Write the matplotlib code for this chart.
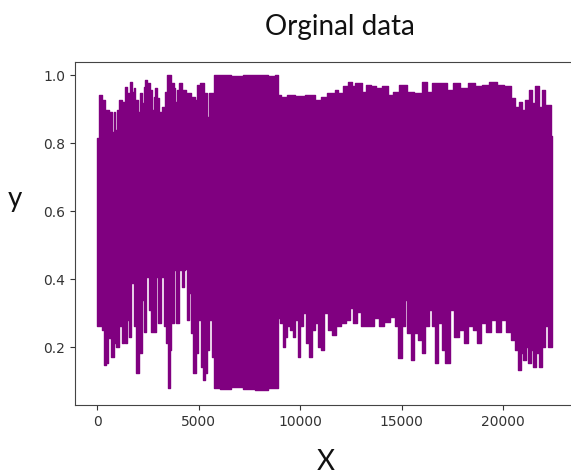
import numpy as np
import matplotlib.pyplot as plt

plt.rcParams['font.family'] = 'DejaVu Sans'

# upper envelope of the signal (x index, y value)
x_top = [0, 30, 165, 360, 445, 690, 770, 855, 935, 1020, 1100, 1345, 1430, 1545,
         1675, 1755, 1840, 1920, 2085, 2170, 2250, 2330, 2415, 2530, 2660, 2740,
         2825, 2905, 3020, 3120, 3285, 3400, 3480, 3610, 3725, 3810, 3890, 3975,
         4055, 4270, 4500, 4760, 4875, 4960, 5040, 5120, 5370, 5485, 5580, 5700,
         5780, 6300, 6900, 7500, 8100, 8700, 8880,
         8930, 9175, 9505, 9995, 10490, 10980, 11065, 11640, 11800, 11970, 12300,
         12460, 12625, 12790, 12955, 13120, 13365, 13610, 13860, 14185, 14435,
         14680, 15090, 15420, 15830, 16160, 16320, 16650, 17060, 17390, 17720,
         18050, 18460, 18790, 19120, 19530, 19860, 20270, 20520, 20680, 20845,
         21010, 21175, 21340, 21500, 21670, 21830, 22000, 22160, 22320, 22410]
y_top = [0.72, 0.815, 0.942, 0.927, 0.898, 0.893, 0.834, 0.893, 0.839, 0.898, 0.927,
         0.922, 0.966, 0.947, 0.981, 0.952, 0.962, 0.927, 0.893, 0.947, 0.918,
         0.966, 0.986, 0.976, 0.957, 0.898, 0.937, 0.962, 0.932, 0.893, 0.908,
         0.952, 1.0, 1.0, 0.976, 0.962, 0.922, 0.957, 0.976, 0.957, 0.947, 0.937,
         0.927, 0.971, 0.918, 0.976, 0.947, 0.878, 0.947, 0.947,
         1.0, 1.002, 0.999, 1.001, 1.0, 0.998, 1.0,
         0.942, 0.937, 0.942, 0.939, 0.942, 0.927, 0.937, 0.947, 0.957, 0.947,
         0.967, 0.981, 0.967, 0.976, 0.976, 0.952, 0.971, 0.967, 0.962, 0.967,
         0.942, 0.952, 0.971, 0.952, 0.947, 0.981, 0.952, 0.976, 0.976, 0.957,
         0.976, 0.962, 0.976, 0.967, 0.971, 0.981, 0.971, 0.967, 0.932, 0.908,
         0.922, 0.898, 0.927, 0.957, 0.918, 0.967, 0.908, 0.957, 0.913, 0.913,
         0.82]

# lower envelope
x_bot = [0, 30, 165, 280, 360, 495, 560, 655, 770, 885, 1020, 1150, 1265, 1345,
         1430, 1545, 1640, 1755, 1870, 2005, 2135, 2250, 2330, 2530, 2625, 2740,
         2825, 2955, 3070, 3235, 3350, 3450, 3530, 3610, 3725, 3840, 3975, 4105,
         4220, 4300, 4350, 4400, 4465, 4550, 4665, 4795, 4925, 5040, 5155, 5255,
         5370, 5485, 5580, 5700,
         5780, 6300, 6900, 7500, 8100, 8700, 8880,
         8950, 9100, 9210, 9310, 9425, 9590, 9705, 9835, 9965, 10080, 10245,
         10330, 10525, 10655, 10820, 10950, 11115, 11280, 11475, 11640, 11885,
         12130, 12380, 12545, 12710, 12875, 13120, 13365, 13530, 13775, 14020,
         14270, 14595, 14760, 14925, 15090, 15220, 15335, 15550, 15715, 15910,
         16075, 16240, 16440, 16600, 16735, 16900, 17060, 17255, 17470, 17720,
         17965, 18180, 18375, 18625, 18835, 19035, 19280, 19530, 19775, 20020,
         20270, 20520, 20680, 20810, 20925, 21040, 21175, 21305, 21420, 21535,
         21670, 21830, 22000, 22160, 22290, 22410]
y_bot = [0.349, 0.261, 0.261, 0.251, 0.148, 0.153, 0.251, 0.226, 0.172, 0.212,
         0.202, 0.261, 0.212, 0.32, 0.212, 0.28, 0.231, 0.388, 0.261, 0.123,
         0.182, 0.339, 0.246, 0.408, 0.31, 0.246, 0.246, 0.408, 0.27, 0.408,
         0.261, 0.212, 0.079, 0.192, 0.27, 0.427, 0.27, 0.427, 0.378, 0.427,
         0.677, 0.43, 0.28, 0.359, 0.241, 0.123, 0.182, 0.28, 0.143, 0.104,
         0.123, 0.192, 0.28, 0.172,
         0.079, 0.076, 0.082, 0.078, 0.075, 0.08, 0.079,
         0.285, 0.27, 0.202, 0.231, 0.261, 0.251, 0.231, 0.28, 0.172, 0.261,
         0.3, 0.212, 0.172, 0.251, 0.27, 0.202, 0.192, 0.3, 0.251, 0.236,
         0.261, 0.27, 0.28, 0.315, 0.27, 0.305, 0.261, 0.261, 0.261, 0.285,
         0.261, 0.275, 0.29, 0.261, 0.168, 0.261, 0.339, 0.241, 0.163, 0.241,
         0.221, 0.182, 0.261, 0.31, 0.261, 0.153, 0.27, 0.192, 0.153, 0.31,
         0.231, 0.251, 0.212, 0.261, 0.251, 0.212, 0.27, 0.246, 0.28, 0.246,
         0.28, 0.246, 0.221, 0.192, 0.133, 0.182, 0.163, 0.202, 0.153, 0.192,
         0.143, 0.182, 0.143, 0.202, 0.261, 0.202, 0.2]

col = '#800080'


def step_path(x, y):
    # mid-step outline: value held until halfway to the next sample
    x = np.asarray(x, float)
    y = np.asarray(y, float)
    m = (x[:-1] + x[1:]) / 2
    xs = np.concatenate([[x[0]], np.repeat(m, 2), [x[-1]]])
    ys = np.repeat(y, 2)
    return xs, ys


xu, yu = step_path(x_top, y_top)
xl, yl = step_path(x_bot, y_bot)
px = np.concatenate([xu, xl[::-1]])
py = np.concatenate([yu, yl[::-1]])

fig = plt.figure(figsize=(5.71, 4.76), dpi=100)
ax = fig.add_axes([74.7 / 571, 71 / 476, 499.4 / 571, 343 / 476])

ax.fill(px, py, facecolor=col, edgecolor=col, lw=1.0, joinstyle='round')

ax.set_xlim(-1100, 23500)
ax.set_ylim(0.030, 1.039)
ax.set_xticks([0, 5000, 10000, 15000, 20000])
ax.set_yticks([0.2, 0.4, 0.6, 0.8, 1.0])
for s in ax.spines.values():
    s.set_color('#444444')
ax.spines['right'].set_visible(False)
ax.tick_params(colors='#333333', labelsize=10)

fig.text(340 / 571, 1 - 27 / 476, 'Orginal data', ha='center', va='center',
         fontsize=20, family='Lato', color='#111111')
fig.text(15 / 571, 1 - 199 / 476, 'y', ha='center', va='center',
         fontsize=20, family='Lato', color='#111111')
fig.text(326 / 571, 1 - 462 / 476, 'X', ha='center', va='center',
         fontsize=20, family='Lato', color='#111111')

fig.savefig('out.png', dpi=100)
